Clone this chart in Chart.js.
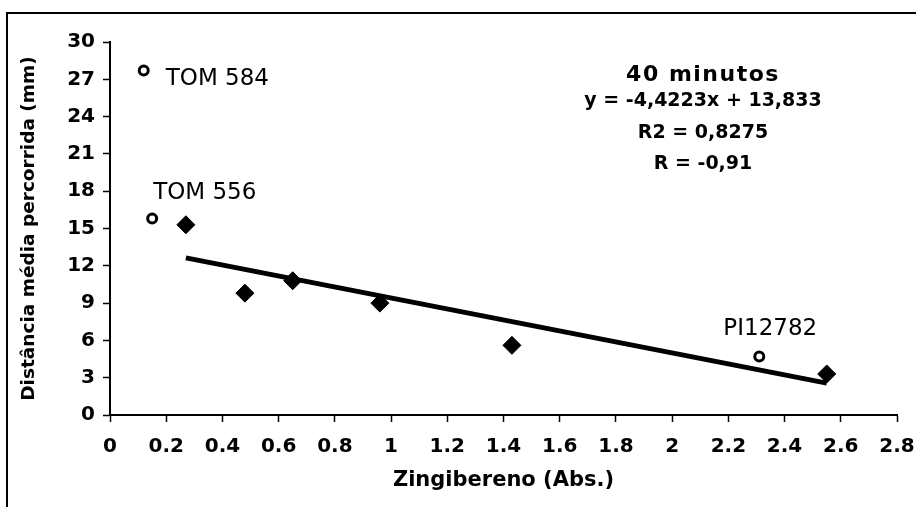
<!DOCTYPE html>
<html>
<head>
<meta charset="utf-8">
<script src="https://cdn.jsdelivr.net/npm/chart.js@4.4.1/dist/chart.umd.min.js"></script>
<style>
  html, body { margin: 0; padding: 0; background: #fff; }
  #wrap { width: 916px; height: 507px; }
</style>
</head>
<body>
<div id="wrap"><canvas id="c" width="916" height="507"></canvas></div>
<script>
// ---- data ----
const genotypeX = [0.27, 0.48, 0.65, 0.96, 1.43, 2.55];
const genotypeY = [15.3, 9.8, 10.8, 9.0, 5.6, 3.3];

const outlierNames = ['TOM 584', 'TOM 556', 'PI12782'];
const outlierX = [0.12, 0.15, 2.31];
const outlierY = [27.7, 15.8, 4.7];

const trendX = [0.27, 2.55];
const trendY = [12.64, 2.56];

const xTickLabels = ['0', '0.2', '0.4', '0.6', '0.8', '1', '1.2', '1.4', '1.6', '1.8', '2', '2.2', '2.4', '2.6', '2.8'];
const yTickLabels = ['0', '3', '6', '9', '12', '15', '18', '21', '24', '27', '30'];

const annotationLines = ['40 minutos', 'y = -4,4223x + 13,833', 'R2 = 0,8275', 'R = -0,91'];
const xTitle = 'Zingibereno (Abs.)';
const yTitle = 'Distância média percorrida (mm)';

// ---- chart ----
const FONT = "'DejaVu Sans', sans-serif";
Chart.defaults.font.family = FONT;
Chart.defaults.color = '#000';

const toPts = (xs, ys) => xs.map((x, i) => ({ x: x, y: ys[i] }));

const framePlugin = {
  id: 'frame',
  beforeDraw(chart) {
    const ctx = chart.ctx;
    ctx.save();
    ctx.fillStyle = '#fff';
    ctx.fillRect(0, 0, chart.width, chart.height);
    ctx.strokeStyle = '#000';
    ctx.lineWidth = 2;
    ctx.beginPath();
    ctx.moveTo(7, chart.height);
    ctx.lineTo(7, 13);
    ctx.lineTo(chart.width, 13);
    ctx.stroke();
    ctx.restore();
  }
};

const textPlugin = {
  id: 'texts',
  afterDatasetsDraw(chart) {
    const ctx = chart.ctx;
    const meta = chart.getDatasetMeta(1);
    ctx.save();
    ctx.fillStyle = '#000';
    ctx.textBaseline = 'middle';
    // point labels
    const offsets = [
      { dx: 22, dy: 8, align: 'left' },
      { dx: 1, dy: -26, align: 'left' },
      { dx: 11, dy: -28, align: 'center' }
    ];
    ctx.font = "23px " + FONT;
    meta.data.forEach((el, i) => {
      const o = offsets[i];
      ctx.textAlign = o.align;
      ctx.fillText(outlierNames[i], el.x + o.dx, el.y + o.dy);
    });
    // equation block
    const cx = 703;
    ctx.textAlign = 'center';
    ctx.font = "bold 22px " + FONT;
    if ('letterSpacing' in ctx) ctx.letterSpacing = '1.5px';
    ctx.fillText(annotationLines[0], cx, 75);
    if ('letterSpacing' in ctx) ctx.letterSpacing = '0px';
    ctx.font = "bold 19px " + FONT;
    ctx.fillText(annotationLines[1], cx, 101);
    ctx.fillText(annotationLines[2], cx, 133);
    ctx.fillText(annotationLines[3], cx, 164);
    ctx.restore();
  }
};

new Chart(document.getElementById('c'), {
  type: 'scatter',
  data: {
    datasets: [
      {
        label: 'Genótipos',
        data: toPts(genotypeX, genotypeY),
        pointStyle: 'rectRot',
        pointRadius: 9,
        pointHoverRadius: 9,
        backgroundColor: '#000',
        borderColor: '#000',
        borderWidth: 1
      },
      {
        label: 'Outros',
        data: toPts(outlierX, outlierY),
        pointStyle: 'circle',
        pointRadius: 4.5,
        pointHoverRadius: 4.5,
        backgroundColor: '#fff',
        borderColor: '#000',
        borderWidth: 3
      },
      {
        type: 'line',
        label: 'Linear',
        data: toPts(trendX, trendY),
        borderColor: '#000',
        borderWidth: 5,
        pointRadius: 0,
        fill: false,
        showLine: true
      }
    ]
  },
  options: {
    responsive: false,
    animation: false,
    events: [],
    layout: { padding: { left: 10, right: 19, top: 42, bottom: 10 } },
    plugins: {
      legend: { display: false },
      tooltip: { enabled: false },
      title: { display: false }
    },
    scales: {
      x: {
        type: 'linear',
        min: 0,
        max: 2.8,
        afterFit(s) { s.height = 82; s.paddingLeft = 0; s.paddingRight = 0; },
        afterBuildTicks(s) {
          s.ticks = xTickLabels.map(t => ({ value: parseFloat(t) }));
        },
        ticks: {
          autoSkip: false,
          maxRotation: 0,
          padding: 13,
          font: { size: 20, weight: 'bold' },
          color: '#000',
          callback: (v, i) => xTickLabels[i]
        },
        grid: {
          drawOnChartArea: false,
          drawTicks: true,
          tickLength: 7,
          tickColor: '#000',
          tickWidth: 1.5
        },
        border: { display: true, color: '#000', width: 2 },
        title: {
          display: true,
          text: xTitle,
          color: '#000',
          font: { size: 21, weight: 'bold' },
          padding: { top: 0, bottom: 4 }
        }
      },
      y: {
        type: 'linear',
        min: 0,
        max: 30,
        afterFit(s) { s.width = 100; s.paddingTop = 0; s.paddingBottom = 0; },
        afterBuildTicks(s) {
          s.ticks = yTickLabels.map(t => ({ value: parseFloat(t) }));
        },
        ticks: {
          autoSkip: false,
          padding: 8,
          font: { size: 20, weight: 'bold' },
          color: '#000',
          callback: (v, i) => yTickLabels[i]
        },
        grid: {
          drawOnChartArea: false,
          drawTicks: true,
          tickLength: 7,
          tickColor: '#000',
          tickWidth: 1.5
        },
        border: { display: true, color: '#000', width: 2 },
        title: {
          display: true,
          text: yTitle,
          color: '#000',
          font: { size: 18.5, weight: 'bold' },
          padding: { top: 8, bottom: 0 }
        }
      }
    }
  },
  plugins: [framePlugin, textPlugin]
});
</script>
</body>
</html>
